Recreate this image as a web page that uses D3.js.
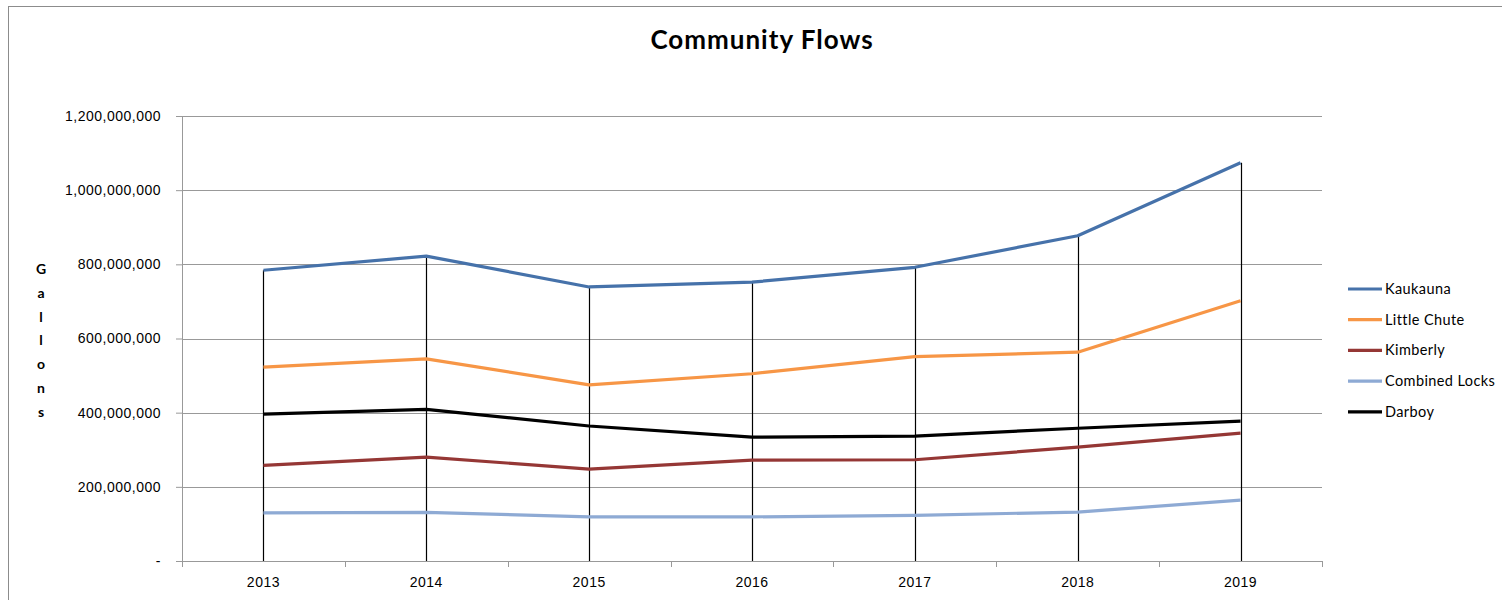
<!DOCTYPE html>
<html>
<head>
<meta charset="utf-8">
<script src="https://cdn.jsdelivr.net/npm/d3@7"></script>
<style>
  body { margin: 0; background: #fff; }
  svg { display: block; font-family: Lato, "Open Sans", sans-serif; }
</style>
</head>
<body>
<script>
// chart data
var years = ["2013", "2014", "2015", "2016", "2017", "2018", "2019"];
var seriesNames = ["Kaukauna", "Little Chute", "Kimberly", "Combined Locks", "Darboy"];
var kaukauna = [784e6, 822e6, 739e6, 752e6, 792e6, 877e6, 1074e6];
var littleChute = [523e6, 545e6, 475e6, 505e6, 551e6, 563e6, 702e6];
var kimberly = [258e6, 280e6, 248e6, 272e6, 273e6, 307e6, 345e6];
var combinedLocks = [130e6, 131e6, 119e6, 119e6, 123e6, 132e6, 164e6];
var darboy = [396e6, 409e6, 364e6, 334e6, 337e6, 358e6, 377e6];
var yTicks = [0, 200e6, 400e6, 600e6, 800e6, 1000e6, 1200e6];

var colors = {
  "Kaukauna": "#4672aa",
  "Little Chute": "#f79646",
  "Kimberly": "#953735",
  "Combined Locks": "#8eaad4",
  "Darboy": "#000000"
};
var values = {
  "Kaukauna": kaukauna,
  "Little Chute": littleChute,
  "Kimberly": kimberly,
  "Combined Locks": combinedLocks,
  "Darboy": darboy
};

var W = 1502, H = 600;
var margin = {top: 116, right: 180, bottom: 39, left: 182};
var width = W - margin.left - margin.right;
var height = H - margin.top - margin.bottom;

var svg = d3.select("body").append("svg")
    .attr("width", W)
    .attr("height", H);

// outer chart border (runs off right/bottom edge)
svg.append("rect")
    .attr("x", 8.5).attr("y", 6.5)
    .attr("width", W + 20).attr("height", H + 20)
    .attr("fill", "none")
    .attr("stroke", "#8c8c8c")
    .attr("stroke-width", 1);

svg.append("text")
    .attr("x", 762).attr("y", 49)
    .attr("text-anchor", "middle")
    .style("font-size", "26px")
    .style("font-weight", "bold")
    .style("letter-spacing", "1px")
    .text("Community Flows");

var g = svg.append("g")
    .attr("transform", "translate(" + margin.left + "," + margin.top + ")");

var x = d3.scaleBand().domain(years).range([0, width]);
var y = d3.scaleLinear().domain([0, 1200e6]).range([height, 0]);

// gridlines
g.append("g")
    .selectAll("line")
    .data(yTicks.slice(1))
  .enter().append("line")
    .attr("x1", 0).attr("x2", width)
    .attr("y1", function(d) { return Math.round(y(d)) + 0.5; })
    .attr("y2", function(d) { return Math.round(y(d)) + 0.5; })
    .attr("stroke", "#999")
    .attr("stroke-width", 1.2);

// y axis
var fmt = d3.format(",");
var yAxis = d3.axisLeft(y)
    .tickValues(yTicks)
    .tickSize(6)
    .tickPadding(15)
    .tickFormat(function(d) { return d === 0 ? "-" : fmt(d); });
var yg = g.append("g").call(yAxis);
yg.select(".domain").attr("stroke", "#999");
yg.selectAll(".tick line").attr("stroke", "#999");
yg.selectAll("text").style("font-size", "14px").style("letter-spacing", "0.5px")
    .attr("fill", "#000").attr("font-family", null);

// x axis
var xAxis = d3.axisBottom(x).tickSize(0).tickPadding(16);
var xg = g.append("g")
    .attr("transform", "translate(0," + height + ")")
    .call(xAxis);
xg.select(".domain").attr("stroke", "#999");
xg.selectAll("text").style("font-size", "14px").style("letter-spacing", "0.5px")
    .attr("fill", "#000").attr("font-family", null);
// ticks at band boundaries
xg.selectAll(".bnd")
    .data(d3.range(years.length + 1))
  .enter().append("line")
    .attr("class", "bnd")
    .attr("x1", function(i) { return Math.round(i * x.step()) + 0.5; })
    .attr("x2", function(i) { return Math.round(i * x.step()) + 0.5; })
    .attr("y1", 0).attr("y2", 6)
    .attr("stroke", "#999");

// drop lines from the highest point down to the axis
g.append("g")
    .selectAll("line")
    .data(years)
  .enter().append("line")
    .attr("x1", function(d) { return Math.round(x(d) + x.bandwidth() / 2) + 0.5; })
    .attr("x2", function(d) { return Math.round(x(d) + x.bandwidth() / 2) + 0.5; })
    .attr("y1", function(d, i) {
      return y(d3.max(seriesNames, function(s) { return values[s][i]; }));
    })
    .attr("y2", height)
    .attr("stroke", "#000")
    .attr("stroke-width", 1.2);

// series lines
var line = d3.line()
    .x(function(d, i) { return x(years[i]) + x.bandwidth() / 2; })
    .y(function(d) { return y(d); });

g.append("g")
    .selectAll("path")
    .data(seriesNames)
  .enter().append("path")
    .attr("d", function(s) { return line(values[s]); })
    .attr("fill", "none")
    .attr("stroke", function(s) { return colors[s]; })
    .attr("stroke-width", 3.2)
    .attr("stroke-linejoin", "round");

// y axis title, stacked letters
svg.append("g")
    .selectAll("text")
    .data("Gallons".split(""))
  .enter().append("text")
    .attr("x", 41)
    .attr("y", function(d, i) { return 274 + i * 23.8; })
    .attr("text-anchor", "middle")
    .style("font-size", "14px")
    .style("font-weight", "bold")
    .text(function(d) { return d; });

// legend
var legend = svg.append("g")
    .selectAll("g")
    .data(seriesNames)
  .enter().append("g")
    .attr("transform", function(d, i) { return "translate(1348," + (289 + i * 30.7) + ")"; });
legend.append("line")
    .attr("x1", 0).attr("x2", 34)
    .attr("stroke", function(s) { return colors[s]; })
    .attr("stroke-width", 3.2);
legend.append("text")
    .attr("x", 37).attr("dy", "0.35em")
    .style("font-size", "14.5px")
    .style("letter-spacing", "0.4px")
    .text(function(s) { return s; });
</script>
</body>
</html>
